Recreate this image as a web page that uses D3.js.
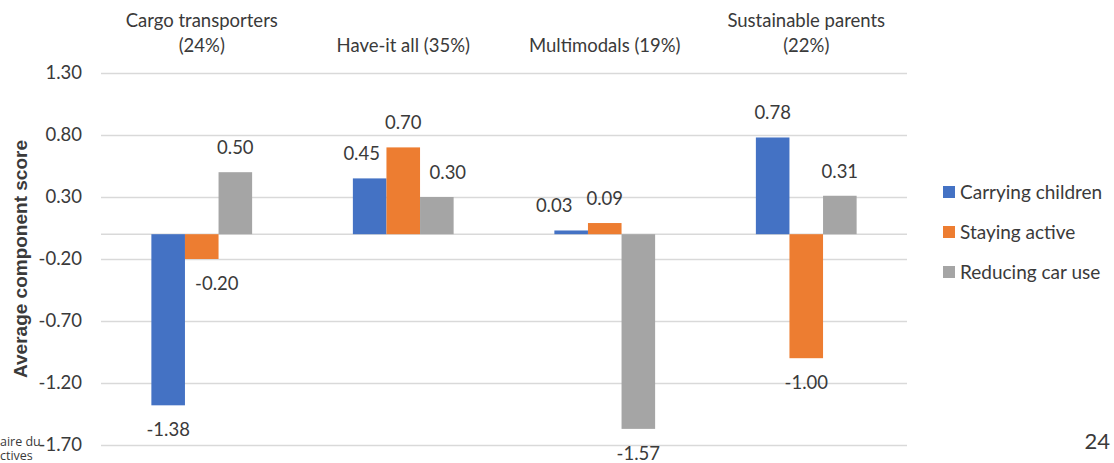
<!DOCTYPE html>
<html>
<head>
<meta charset="utf-8">
<script src="https://cdn.jsdelivr.net/npm/d3@7"></script>
<style>
  html, body { margin: 0; padding: 0; background: #fff; }
  svg { display: block; }
  text { font-family: Lato, "Open Sans", sans-serif; fill: #3a3a3a; }
</style>
</head>
<body>
<svg id="chart" width="1114" height="463"></svg>
<script>
// Segment labels (one array entry per text line) and the three component series
const categories = ["Cargo transporters", "Have-it all", "Multimodals", "Sustainable parents"];
const categoryLines = [
  ["Cargo transporters", "(24%)"],
  ["Have-it all (35%)"],
  ["Multimodals (19%)"],
  ["Sustainable parents", "(22%)"]
];
const seriesNames = ["Carrying children", "Staying active", "Reducing car use"];
const carryingChildren = [-1.38, 0.45, 0.03, 0.78];
const stayingActive   = [-0.20, 0.70, 0.09, -1.00];
const reducingCarUse  = [0.50, 0.30, -1.57, 0.31];
const tickValues = [1.30, 0.80, 0.30, -0.20, -0.70, -1.20, -1.70];
const seriesColors = ["#4472C4", "#ED7D31", "#A5A5A5"];

// Horizontal nudges for value labels that would otherwise crowd each other
const labelNudge = {
  "Cargo transporters|Staying active": 15,
  "Have-it all|Carrying children": -8,
  "Have-it all|Reducing car use": 11,
  "Multimodals|Carrying children": -17
};

const seriesValues = [carryingChildren, stayingActive, reducingCarUse];
const rows = [];
categories.forEach((c, i) => {
  seriesNames.forEach((s, j) => rows.push({ category: c, series: s, value: seriesValues[j][i] }));
});

const fmt = d3.formatLocale({ decimal: ".", thousands: ",", grouping: [3], currency: ["", ""], minus: "-" }).format(".2f");
const FS = 18.5;

const svg = d3.select("#chart");
const plot = { left: 101, right: 907, top: 73, bottom: 445 };

const y = d3.scaleLinear().domain([-1.7, 1.3]).range([plot.bottom, plot.top]);
const x0 = d3.scaleBand().domain(categories).range([plot.left, plot.right]).padding(0);
const bw = x0.bandwidth();
const x1 = d3.scaleBand().domain(seriesNames).range([bw / 4, bw * 3 / 4]).padding(0);
const color = d3.scaleOrdinal().domain(seriesNames).range(seriesColors);

// Horizontal gridlines with tick labels on the left
const yAxis = d3.axisLeft(y)
  .tickValues(tickValues)
  .tickSize(-(plot.right - plot.left))
  .tickPadding(19)
  .tickFormat(fmt);
const gy = svg.append("g")
  .attr("transform", `translate(${plot.left},0)`)
  .call(yAxis);
gy.select(".domain").remove();
gy.selectAll(".tick line").attr("stroke", "#d9d9d9").attr("stroke-width", 1.5);
gy.selectAll(".tick text")
  .attr("font-size", FS)
  .attr("fill", "#3a3a3a")
  .style("font-family", "Lato, sans-serif");

// Zero baseline
svg.append("line")
  .attr("x1", plot.left).attr("x2", plot.right)
  .attr("y1", y(0)).attr("y2", y(0))
  .attr("stroke", "#d9d9d9").attr("stroke-width", 1.5);

// Bars
const groups = svg.append("g").selectAll("g")
  .data(categories)
  .join("g")
  .attr("transform", d => `translate(${x0(d)},0)`);

groups.selectAll("rect")
  .data(c => rows.filter(r => r.category === c))
  .join("rect")
  .attr("x", d => x1(d.series))
  .attr("width", x1.bandwidth())
  .attr("y", d => y(Math.max(0, d.value)))
  .attr("height", d => Math.abs(y(d.value) - y(0)))
  .attr("fill", d => color(d.series));

// Value labels above positive bars and below negative bars
groups.selectAll("text.value")
  .data(c => rows.filter(r => r.category === c))
  .join("text")
  .attr("class", "value")
  .attr("x", d => x1(d.series) + x1.bandwidth() / 2 + (labelNudge[d.category + "|" + d.series] || 0))
  .attr("y", d => d.value >= 0 ? y(d.value) - 18 : y(d.value) + 31)
  .attr("text-anchor", "middle")
  .attr("font-size", FS)
  .text(d => fmt(d.value));

// Category labels along the top, bottom-aligned
const catLabels = svg.append("g").selectAll("text")
  .data(categories)
  .join("text")
  .attr("text-anchor", "middle")
  .attr("font-size", FS)
  .attr("x", d => x0(d) + bw / 2);
catLabels.each(function(d, i) {
  const lines = categoryLines[i];
  const t = d3.select(this);
  lines.forEach((ln, k) => {
    t.append("tspan")
      .attr("x", x0(d) + bw / 2)
      .attr("y", 52 - (lines.length - 1 - k) * 25.5)
      .text(ln);
  });
});

// Y axis title
svg.append("text")
  .attr("transform", `translate(27,${(plot.top + plot.bottom) / 2}) rotate(-90)`)
  .attr("text-anchor", "middle")
  .attr("font-size", 19)
  .attr("font-weight", 700)
  .style("font-family", "'Liberation Sans', Arial, sans-serif")
  .attr("fill", "#1a1a1a")
  .text("Average component score");

// Legend
const legend = svg.append("g").selectAll("g")
  .data(seriesNames)
  .join("g")
  .attr("transform", (d, i) => `translate(943,${192 + i * 40})`);
legend.append("rect")
  .attr("x", 0).attr("y", -6)
  .attr("width", 12).attr("height", 12)
  .attr("fill", d => color(d));
legend.append("text")
  .attr("x", 17).attr("y", 6.5)
  .attr("font-size", 19)
  .text(d => d);

// Page furniture: partial footer text and page number
const footer = svg.append("text")
  .attr("font-size", 12.5)
  .style("font-family", "'Open Sans', sans-serif")
  .attr("fill", "#3196d0");
footer.append("tspan").attr("x", 0).attr("y", 446).text("aire du");
footer.append("tspan").attr("x", 0).attr("y", 460).text("ctives");
svg.append("text")
  .attr("x", 1110).attr("y", 449)
  .attr("text-anchor", "end")
  .attr("font-size", 22)
  .attr("fill", "#8a8a8a")
  .text("24");
</script>
</body>
</html>
